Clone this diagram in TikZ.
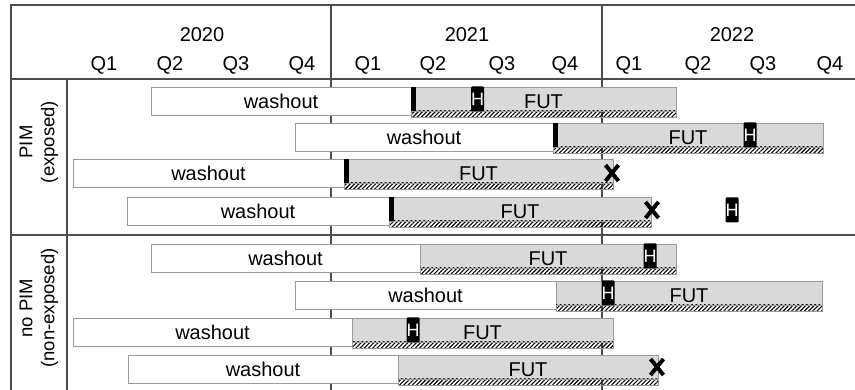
\documentclass[tikz,border=0pt]{standalone}
\usepackage{fontspec}
\setmainfont{Liberation Sans}
\usetikzlibrary{patterns.meta,shapes.misc}

\definecolor{framegray}{HTML}{4D4D4D}
\definecolor{boxgray}{HTML}{9A9A9A}
\definecolor{futgray}{HTML}{D9D9D9}

\tikzset{
  frame/.style={draw=framegray, line width=1.2pt},
  washbox/.style={draw=boxgray, fill=white, line width=0.8pt},
  futbox/.style={draw=boxgray, fill=futgray, line width=0.8pt},
  hatchbar/.style={draw=boxgray, line width=0.6pt,
    pattern={Lines[angle=45,distance=3pt,line width=1.1pt]}, pattern color=black},
  lbl/.style={font=\fontsize{20}{24}\selectfont, inner sep=0pt, anchor=base},
  sidelbl/.style={font=\fontsize{18.5}{22}\selectfont, align=center, rotate=90, inner sep=0pt},
  startmark/.style={fill=black},
  hmark/.style={fill=black, rounded corners=1pt, text=white, inner sep=0pt,
    minimum width=12pt, minimum height=25pt, font=\fontsize{18}{18}\selectfont},
  xmark/.style={cross out, draw=black, line width=4pt, inner sep=0pt,
    minimum width=9pt, minimum height=12pt}
}

% one subject: washout period followed by follow-up time (FUT)
% #1 name, #2 top, #3 washout start, #4 FUT start, #5 FUT end
\newcommand\ganttrow[5]{%
  \draw[washbox] (#3,#2) rectangle (#4,#2+28);
  \node[lbl] (#1w) at ({(#3+#4)/2},#2+21.5) {washout};
  \draw[futbox] (#4,#2) rectangle (#5,#2+24);
  \draw[hatchbar] (#4,#2+24) rectangle (#5,#2+30);
  \node[lbl] (#1f) at ({(#4+#5)/2},#2+21.5) {FUT};
}
\newcommand\startbar[2]{\fill[startmark] (#1,#2) rectangle (#1+5,#2+24);}

\begin{document}
\begin{tikzpicture}[x=1pt,y=-1pt]
\useasboundingbox (0,0) rectangle (855,390);

% year dividers (behind the bars)
\draw[frame] (331,5) -- (331,390);
\draw[frame] (602,5) -- (602,390);

% table frame
\draw[frame] (855,5) -- (11,5) -- (11,390);
\draw[frame] (11,79) -- (855,79);
\draw[frame] (67,79) -- (67,390);
\draw[frame] (11,235) -- (855,235);

% header
\node[lbl] (y2020) at (202,42) {2020};
\node[lbl] (y2021) at (467,42) {2021};
\node[lbl] (y2022) at (732,42) {2022};
\foreach \x/\q [count=\i] in {104/Q1,170/Q2,236/Q3,302/Q4,368/Q1,433/Q2,502/Q3,565/Q4,629/Q1,698/Q2,763/Q3,830/Q4}
  \node[lbl] (q\i) at (\x,71) {\q};

% group labels
\node[sidelbl] (grpA) at (39,142) {PIM\\(exposed)};
\node[sidelbl] (grpB) at (39,308) {no PIM\\(non-exposed)};

% exposed subjects
\ganttrow{a}{87}{151}{411}{676}
\startbar{411}{87}
\ganttrow{b}{123}{295}{553}{823}
\startbar{553}{123}
\ganttrow{c}{159}{73}{344}{613}
\startbar{344}{159}
\ganttrow{d}{197}{127}{389}{651}
\startbar{389}{197}

% non-exposed subjects
\ganttrow{e}{244}{151}{420}{676}
\ganttrow{f}{281}{295}{556}{822}
\ganttrow{g}{318}{73}{352}{613}
\ganttrow{h}{355}{128}{398}{658}

% events
\node[hmark] (ha) at (477.5,99) {H};
\node[hmark] (hb) at (750,135) {H};
\node[hmark] (hd) at (732,210) {H};
\node[hmark] (he) at (650,256) {H};
\node[hmark] (hf) at (608,293) {H};
\node[hmark] (hg) at (413,330) {H};

\node[xmark] (xc) at (612,173) {};
\node[xmark] (xd) at (652,210) {};
\node[xmark] (xh) at (657,367) {};
\end{tikzpicture}
\end{document}
